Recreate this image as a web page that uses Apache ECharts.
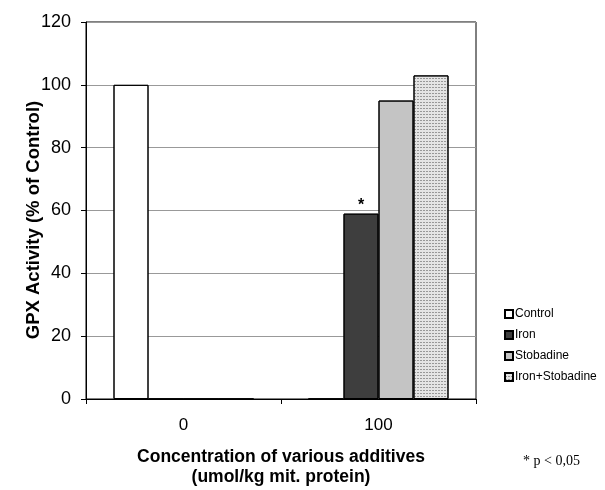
<!DOCTYPE html>
<html>
<head>
<meta charset="utf-8">
<script src="https://cdn.jsdelivr.net/npm/echarts@6/dist/echarts.min.js"></script>
<style>
  html, body { margin: 0; padding: 0; background: #fff; }
  #chart { width: 605px; height: 490px; }
</style>
</head>
<body>
<div id="chart"></div>
<script>
// 浓度分类与各组数值
var categories = ['0', '100']
var seriesNames = ['Control', 'Iron', 'Stobadine', 'Iron+Stobadine']
var controlData = [100, 0]
var ironData = [0, 59]
var stobadineData = [0, 95]
var ironStobadineData = [0, 103]
var yTicks = [0, 20, 40, 60, 80, 100, 120]

var chart = echarts.init(document.getElementById('chart'))

var fills = ['#ffffff', '#3e3e3e', '#c4c4c4', '#e4e4e4']
var noDecal = { symbol: 'rect', color: 'rgba(0,0,0,0)' }
var decals = [noDecal, noDecal, noDecal, {
  symbol: 'rect',
  symbolSize: 1,
  color: 'rgba(60,60,60,0.45)',
  dashArrayX: [[2, 1]],
  dashArrayY: [1, 2],
  rotation: 0
}]
var values = [controlData, ironData, stobadineData, ironStobadineData]

var series = []
seriesNames.forEach(function(name, i) {
  var data = values[i].map(function(v, j) {
    // 铁组100处的显著性星号
    if (name === 'Iron' && j === 1) {
      return { value: v, label: { show: true, position: 'top', formatter: '*', fontSize: 16, fontWeight: 'bold', color: '#000', distance: 0 } }
    }
    return v
  })
  series.push({
    name: name,
    type: 'bar',
    barWidth: 35,
    barGap: '0%',
    data: data,
    itemStyle: { color: fills[i], borderColor: '#000', borderWidth: 1, decal: decals[i] },
    emphasis: { disabled: true }
  })
})

chart.setOption({
  animation: false,
  backgroundColor: '#fff',
  aria: { enabled: true, decal: { show: true } },
  grid: {
    left: 86,
    right: 129,
    top: 22,
    bottom: 91,
    outerBoundsMode: 'none',
    show: true,
    borderColor: '#000',
    borderWidth: 1
  },
  legend: {
    orient: 'vertical',
    left: 499,
    top: 303,
    icon: 'rect',
    itemWidth: 8,
    itemHeight: 8,
    itemGap: 9,
    data: seriesNames,
    textStyle: { fontFamily: 'Liberation Sans, Arial', fontSize: 12, color: '#000', padding: [0, 0, 0, -3] }
  },
  xAxis: {
    type: 'category',
    data: categories,
    axisLine: { lineStyle: { color: '#000' } },
    axisTick: { show: true, length: 5, lineStyle: { color: '#000' } },
    axisLabel: { fontFamily: 'Liberation Sans, Arial', fontSize: 17, color: '#000', margin: 18 },
    name: 'Concentration of various additives\n(umol/kg mit. protein)',
    nameLocation: 'middle',
    nameGap: 48,
    nameTextStyle: { fontFamily: 'Liberation Sans, Arial', fontSize: 17.5, fontWeight: 'bold', color: '#000', lineHeight: 20 }
  },
  yAxis: {
    type: 'value',
    min: yTicks[0],
    max: yTicks[yTicks.length - 1],
    interval: 20,
    axisLine: { show: true, lineStyle: { color: '#000' } },
    axisTick: { show: true, length: 5, lineStyle: { color: '#000' } },
    axisLabel: { fontFamily: 'Liberation Sans, Arial', fontSize: 18, color: '#000', margin: 15 },
    splitLine: { show: true, lineStyle: { color: '#999', width: 1 } }
  },
  graphic: [{
    type: 'text',
    x: 34,
    y: 220,
    rotation: Math.PI / 2,
    style: {
      text: 'GPX Activity (% of Control)',
      font: 'bold 18.5px "Liberation Sans", Arial, sans-serif',
      fill: '#000',
      textAlign: 'center',
      textVerticalAlign: 'middle'
    }
  }, {
    type: 'text',
    left: 523,
    top: 454,
    style: { text: '* p < 0,05', font: '14px "Liberation Serif", "Times New Roman", serif', fill: '#000' }
  }],
  series: series
})
</script>
</body>
</html>
